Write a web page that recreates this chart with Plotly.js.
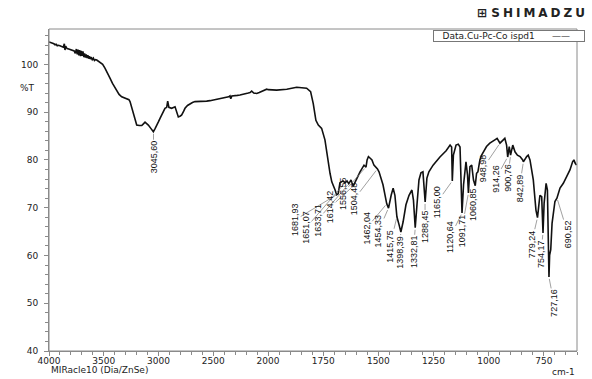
<!DOCTYPE html>
<html>
<head>
<meta charset="utf-8">
<script src="https://cdn.plot.ly/plotly-3.0.1.min.js"></script>
<style>html,body{margin:0;padding:0;background:#fff;}#chart{width:592px;height:379px;}</style>
</head>
<body>
<div id="chart"></div>
<script>
// ---- Data: FTIR spectrum (wavenumber cm-1, %T) ----
// 4000-2000 cm-1 section (compressed scale)
const wnHigh = [4000,3985,3970,3955,3945,3935,3925,3915,3900,3885,3870,3860,3854,3848,3835,3820,3800,3785,3770,3760,3750,3742,3735,3728,3720,3712,3705,3698,3690,3682,3675,3668,3660,3652,3645,3638,3630,3622,3615,3605,3595,3585,3575,3564,3550,3534,3510,3489,3465,3443,3420,3397,3375,3360,3336,3310,3290,3270,3260,3245,3230,3215,3199,3175,3153,3140,3123,3108,3093,3070,3047,3030,3020,3000,2986,2960,2941,2925,2916,2905,2880,2849,2830,2819,2800,2788,2770,2758,2735,2712,2690,2667,2630,2600,2560,2530,2490,2460,2430,2408,2380,2360,2347,2340,2330,2300,2280,2256,2230,2200,2180,2164,2149,2130,2103,2080,2060,2040,2012,2000];
const tHigh  = [104.7,104.6,104.4,104.3,104.1,104.2,103.9,104.0,103.9,103.7,103.6,104.3,103.0,103.8,103.3,103.2,103.0,102.9,102.8,102.3,103.2,102.1,103.1,101.9,103.0,101.7,102.8,101.8,102.7,101.5,102.3,101.4,102.1,101.3,101.9,101.2,101.7,101.1,101.5,101.0,101.3,100.8,101.0,100.9,100.7,100.5,100.0,99.2,98.2,97.1,96.0,95.0,94.2,93.7,93.2,93.0,92.9,92.6,92.2,91.0,89.4,88.2,87.3,87.2,87.2,87.5,87.9,87.6,87.3,86.6,85.9,86.6,87.2,88.0,88.7,89.8,90.8,91.0,92.3,91.0,90.8,91.1,90.0,89.0,89.2,89.4,90.2,90.8,91.4,91.8,92.0,92.2,92.2,92.3,92.3,92.4,92.6,92.7,92.8,92.9,93.1,93.2,93.4,92.8,93.4,93.4,93.5,93.6,93.7,93.8,94.0,94.1,94.4,94.0,93.9,94.1,94.3,94.5,94.8,94.7];
// 2000-600 cm-1 section (expanded scale)
const wnLow = [2000,1961,1915,1870,1825,1807,1795,1783,1772,1757,1742,1727,1719,1711,1704,1696,1689,1682,1674,1660,1651,1642,1634,1624,1614,1601,1583,1565,1556,1551,1545,1538,1529,1520,1504,1497,1479,1462,1454,1442,1433,1425,1416,1406,1398,1388,1375,1361,1348,1341,1333,1325,1316,1307,1298,1288,1280,1271,1252,1221,1193,1175,1168,1165,1160,1148,1138,1130,1125,1121,1114,1103,1096,1092,1085,1077,1069,1061,1055,1049,1040,1032,1010,995,972,962,949,934,927,919,914,907,901,891,881,870,858,846,843,828,821,813,798,786,779,772,768,760,754,749,740,734,730,727,724,719,713,707,700,691,685,677,662,647,632,620,614,608,602];
const tLow  = [94.7,94.6,94.8,95.2,95.0,94.3,91.8,88.3,87.3,86.6,84.2,79.3,77.2,75.4,74.7,73.7,72.7,72.9,75.2,75.6,75.2,75.6,75.0,75.8,74.5,75.8,77.5,78.9,78.5,80.0,80.7,80.4,80.0,78.9,78.1,77.5,74.8,70.8,69.9,72.6,74.1,72.6,68.1,66.4,64.9,67.0,70.6,72.6,73.7,71.6,65.8,70.6,75.8,77.3,77.5,71.2,76.2,77.5,78.9,80.6,81.9,83.1,82.7,75.6,81.0,83.1,83.3,82.7,76.8,68.9,74.8,79.6,76.8,73.1,78.6,78.9,75.8,74.6,77.2,77.5,80.0,81.0,82.8,83.5,84.2,84.5,83.5,84.2,84.5,83.1,80.6,82.8,81.0,83.1,81.7,81.0,80.7,80.0,79.6,80.7,81.0,80.0,75.8,69.5,67.9,70.9,72.6,72.3,64.7,70.9,75.1,73.7,65.3,55.5,60.1,61.2,66.7,69.5,71.3,72.0,73.0,74.1,75.1,76.5,77.9,79.6,80.0,79.3,78.9];

// Peak picks
const peakLabels = ['3045,60','1681,93','1651,07','1633,71','1614,42','1556,55','1504,48','1462,04','1454,33','1415,75','1398,39','1332,81','1288,45','1165,00','1120,64','1091,71','1060,85','948,98','914,26','900,76','842,89','779,24','754,17','727,16','690,52'];
const peakWn = [3045.60,1681.93,1651.07,1633.71,1614.42,1556.55,1504.48,1462.04,1454.33,1415.75,1398.39,1332.81,1288.45,1165.00,1120.64,1091.71,1060.85,948.98,914.26,900.76,842.89,779.24,754.17,727.16,690.52];
const peakT  = [85.9,72.9,75.2,75.0,74.5,78.5,78.1,70.8,69.9,68.1,64.9,65.8,71.2,75.6,68.9,73.1,74.6,83.5,80.6,81.0,79.6,67.9,64.7,55.5,72.0];

// Tick labels
const xTicksHigh = [4000,3500,3000,2500];
const xTicksLow = [2000,1750,1500,1250,1000,750];
const yTicks = [40,50,60,70,80,90,100];

// ---- Layout config (label offsets in pixels) ----
const labelDX = [0,-43,-39,-31,-23,-23,-23,-20,-10,-7,-1,-2,0,-15,-12,-7,-3,-17,-12,-3,-4,-6,-2,5,11];
const labelDY = [25,26,45,36,21,26,30,24,23,29,20,24,25,21,24,38,19,25,22,23,26,26,21,26,36];

const FONT = 'DejaVu Sans, sans-serif';
const NARROW = 'Liberation Sans Narrow, Arial Narrow, Liberation Sans, sans-serif';
const AXC = '#8a8a8a';
const split = 219/528;
const NB = '\u00A0';

const traces = [
  {x: wnHigh, y: tHigh, xaxis:'x', yaxis:'y', mode:'lines', line:{color:'#111', width:1.6}, hoverinfo:'skip', name:'Data.Cu-Pc-Co ispd1'},
  {x: wnLow, y: tLow, xaxis:'x2', yaxis:'y', mode:'lines', line:{color:'#111', width:1.6}, hoverinfo:'skip', showlegend:false}
];

const annotations = peakLabels.map((lab, i) => ({
  text: lab,
  x: peakWn[i], y: peakT[i],
  xref: peakWn[i] > 2000 ? 'x' : 'x2', yref: 'y',
  showarrow: true, arrowhead: 0, arrowwidth: 0.7, arrowcolor: '#777',
  ax: labelDX[i], ay: labelDY[i], standoff: 2,
  textangle: -90,
  font: {family: NARROW, size: 9, color: '#111'},
  borderpad: 0
}));

annotations.push(
  {text:'%T', xref:'paper', yref:'y', x:-0.023, y:95, xanchor:'right', yanchor:'middle', showarrow:false, font:{family:FONT, size:9, color:'#222'}},
  {text:'MIRacle10 (Dia/ZnSe)', xref:'paper', yref:'paper', x:0, y:0, xanchor:'left', yanchor:'top', yshift:-12, showarrow:false, font:{family:FONT, size:9, color:'#222'}},
  {text:'cm-1', xref:'paper', yref:'paper', x:1, y:0, xanchor:'right', yanchor:'top', yshift:-14, showarrow:false, font:{family:FONT, size:9, color:'#222'}},
  {text: NB+NB+NB+'Data.Cu-Pc-Co ispd1'+NB+NB+NB+NB+NB+NB+'——'+NB+NB+NB+NB+NB, xref:'paper', yref:'paper', x:1.015, y:0.997, xanchor:'right', yanchor:'top', showarrow:false, bordercolor:'#777', borderwidth:1, borderpad:0, bgcolor:'#fff', font:{family:FONT, size:9, color:'#222'}},
  {text:'<b>⊞ <span style="letter-spacing:3px">SHIMADZU</span></b>', xref:'paper', yref:'paper', x:1.024, y:1.05, xanchor:'right', yanchor:'middle', showarrow:false, font:{family:'DejaVu Sans, sans-serif', size:12, color:'#222'}}
);

const axisCommon = {
  showgrid:false, zeroline:false, showline:true, linecolor:AXC, linewidth:1,
  ticks:'outside', ticklen:4, tickcolor:AXC, tickwidth:1,
  tickfont:{family:FONT, size:9, color:'#222'}, fixedrange:true
};

const layout = {
  width:592, height:379,
  margin:{l:49, r:15, t:29, b:28},
  paper_bgcolor:'#fff', plot_bgcolor:'#fff',
  showlegend:false,
  xaxis: Object.assign({}, axisCommon, {domain:[0, split], range:[4000,2000], tickmode:'array', tickvals:xTicksHigh, ticktext:xTicksHigh.map(String), anchor:'y', ticklabelstandoff:-3,
    minor:{tickmode:'linear', tick0:0, dtick:100, ticks:'outside', ticklen:3, tickcolor:AXC}}),
  xaxis2: Object.assign({}, axisCommon, {domain:[split, 1], range:[2000,600], tickmode:'array', tickvals:xTicksLow, ticktext:xTicksLow.map(String), anchor:'y', ticklabelstandoff:-3,
    minor:{tickmode:'linear', tick0:0, dtick:50, ticks:'outside', ticklen:3, tickcolor:AXC}}),
  yaxis: Object.assign({}, axisCommon, {range:[40,107.4], tickmode:'array', tickvals:yTicks, ticktext:yTicks.map(String), anchor:'x', ticklabelstandoff:4,
    minor:{tickmode:'linear', tick0:0, dtick:2, ticks:'outside', ticklen:3, tickcolor:AXC}}),
  shapes:[{type:'rect', xref:'paper', yref:'paper', x0:0, x1:1, y0:0, y1:1, line:{color:AXC, width:1}}],
  annotations: annotations
};

Plotly.newPlot('chart', traces, layout, {displayModeBar:false, staticPlot:true});
</script>
</body>
</html>
